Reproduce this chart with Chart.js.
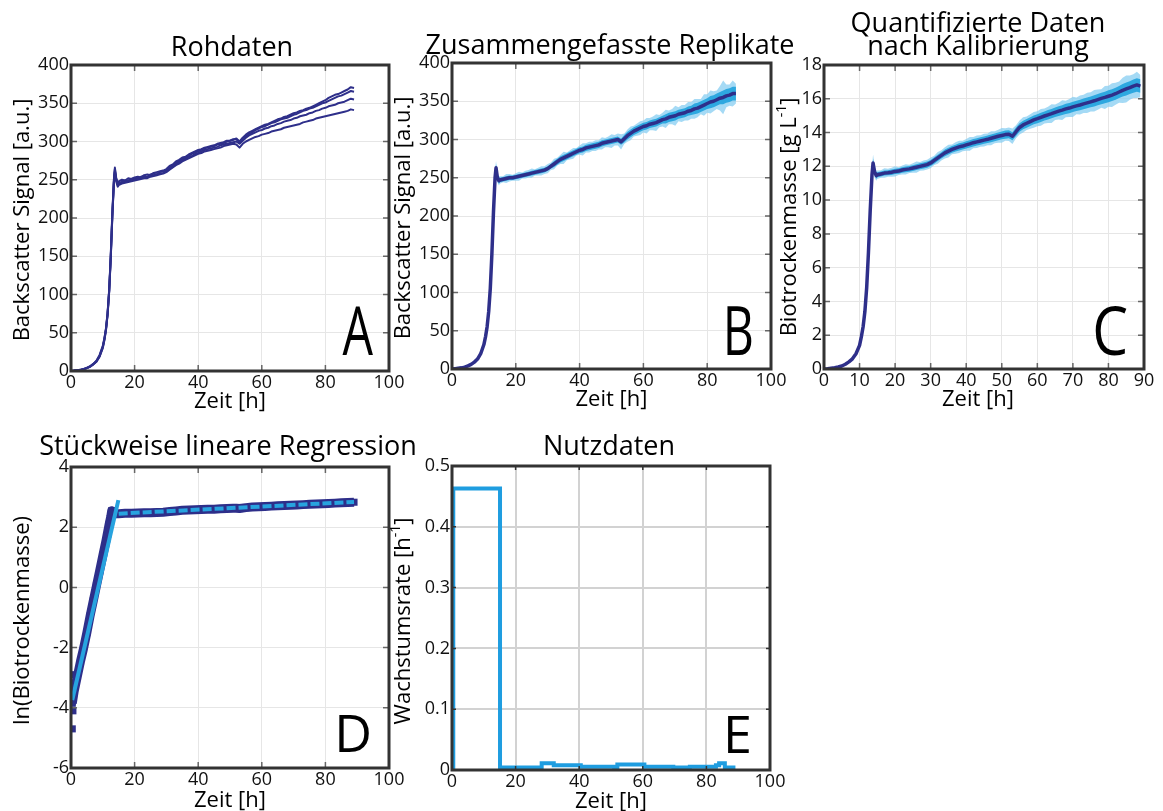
<!DOCTYPE html>
<html><head><meta charset="utf-8">
<script src="https://cdn.jsdelivr.net/npm/chart.js@4.4.0/dist/chart.umd.min.js"></script>
<style>
html,body{margin:0;padding:0;background:#fff;width:1163px;height:811px;overflow:hidden;}
canvas{position:absolute;left:0;top:0;pointer-events:none;}
</style></head><body>
<canvas id="cA" width="1163" height="811"></canvas>
<canvas id="cB" width="1163" height="811"></canvas>
<canvas id="cC" width="1163" height="811"></canvas>
<canvas id="cD" width="1163" height="811"></canvas>
<canvas id="cE" width="1163" height="811"></canvas>
<script>
// ---------- data ----------
const T = [0,1,2,3,4,5,6,7,8,9,10,10.5,11,11.5,12,12.5,13,13.5,13.8,14.2,14.7,
15,16,17,18,19,20,21,22,23,24,25,26,27,28,29,
30,31,32,33,34,35,36,37,38,39,40,41,42,43,44,
45,46,47,48,49,50,51,52,53,54,55,56,57,58,59,
60,61,62,63,64,65,66,67,68,69,70,71,72,73,74,
75,76,77,78,79,80,81,82,83,84,85,86,87,88,89];

// Panel A: raw backscatter replicates
const rep1 = [0,0.5,1,1.5,2.5,4,6,9,13,20,32,42,55,75,105,150,205,250,266,253,246,
248,250,249,252,251,253,254,253,256,257,256,259,260,261,262,
264,268,270,274,276,279,280,283,285,287,289,290,292,293,294,
295,297,298,299,301,301,302,304,300,305,309,312,314,316,318,
320,322,323,325,327,329,330,332,333,335,337,338,340,341,343,
344,346,348,350,352,354,357,359,361,362,364,366,368,371,370];
const rep2 = [0,0.4,0.9,1.5,2.4,3.8,5.8,8.7,12.5,19,31,41,54,74,104,148,203,248,264,251,244,
246,247,249,249,251,252,251,254,255,254,257,258,257,260,261,
262,266,269,272,275,277,279,281,284,286,287,289,291,292,293,
294,296,297,298,300,301,303,303,299,304,307,310,312,315,317,
319,320,322,324,325,327,329,330,331,333,335,336,338,340,341,
343,344,346,348,350,351,353,355,357,359,360,362,364,366,365];
const rep3 = [0,0.5,1,1.6,2.6,4.2,6.2,9.3,13.5,21,33,43,56,76,106,152,207,251,262,250,243,
245,246,248,248,250,250,252,252,253,254,255,256,257,258,259,
261,264,267,270,273,275,277,280,281,284,285,287,289,290,291,
292,293,295,296,297,298,299,300,297,301,305,308,310,312,314,
315,317,318,320,321,323,324,326,327,328,330,331,333,334,335,
337,338,340,341,343,344,346,347,348,350,351,352,354,356,355];
const rep4 = [0,0.4,0.9,1.4,2.3,3.7,5.6,8.5,12,19,30,40,53,73,103,147,202,247,260,248,241,
243,245,246,247,248,249,250,251,252,252,254,255,256,257,258,
260,263,266,269,271,274,276,278,280,282,284,285,287,288,289,
290,291,292,294,295,296,297,296,292,297,300,302,304,306,307,
309,310,311,313,314,315,316,318,319,320,321,322,323,325,326,
327,328,330,331,332,333,334,335,336,337,338,339,340,342,341];

// Panel B: combined replicates (mean, inner spread, outer spread)
const bMean = [0,0.5,1,1.5,2.5,4,6,9,13,20,32,42,55,75,105,150,205,250,263,251,246,
247,248,249,250,250,251,252,253,254,255,256,257,258,259,260,
262,265,268,271,274,276,278,280,282,284,286,287,289,290,291,
292,293,295,296,297,298,299,300,297,301,305,308,311,313,315,
317,318,320,321,322,324,326,327,329,330,331,333,334,335,337,
338,340,341,343,345,347,349,350,352,354,355,357,358,360,360];
const bSD = [1,1,1,1,1,1,1,1,1,1,2,2,2,3,3,4,4,5,5,4,4,
3,3,3,3,3,3,3,3,3,3,3,3,3,3,3,
3,3,4,4,4,4,4,4,4,4,4,4,4,4,4,
4,4,4,4,4,4,4,4,4,5,5,5,5,5,5,
5,5,5,5,5,5,5,6,6,6,6,6,6,6,6,
6,7,7,7,7,7,8,8,8,8,9,9,9,9,9];
const bSpike = [2,2,2,2,2,2,2,2,2,2,3,3,4,5,5,6,7,9,9,7,6,
5,4,6,5,4,5,6,4,5,5,6,4,5,6,5,
6,5,7,5,6,8,5,6,7,5,6,8,6,7,6,
7,6,8,6,7,9,7,8,10,7,8,9,7,8,9,
8,10,8,9,11,8,9,12,9,10,13,9,11,10,12,
11,13,12,10,14,12,15,13,12,16,22,15,14,17,13];

// Panel C: calibrated biomass
const cMean = [0,0.02,0.05,0.08,0.12,0.18,0.28,0.42,0.6,0.9,1.4,1.9,2.5,3.4,4.8,6.9,9.4,11.5,12.2,11.7,11.45,
11.5,11.55,11.6,11.62,11.65,11.7,11.72,11.78,11.82,11.85,11.9,11.95,12.0,12.05,12.1,
12.2,12.35,12.5,12.65,12.8,12.9,13.0,13.08,13.15,13.2,13.27,13.33,13.4,13.45,13.5,
13.55,13.6,13.66,13.72,13.78,13.83,13.88,13.9,13.78,14.05,14.3,14.45,14.55,14.65,14.75,
14.82,14.9,14.98,15.05,15.12,15.2,15.27,15.33,15.4,15.45,15.52,15.58,15.63,15.7,15.76,
15.82,15.88,15.95,16.02,16.08,16.15,16.22,16.3,16.4,16.5,16.58,16.66,16.75,16.82,16.75];
const cSD = [0.03,0.03,0.03,0.03,0.04,0.04,0.05,0.05,0.06,0.07,0.1,0.12,0.14,0.16,0.18,0.2,0.22,0.25,0.25,0.2,0.18,
0.15,0.15,0.15,0.15,0.16,0.16,0.16,0.16,0.17,0.17,0.17,0.17,0.18,0.18,0.18,
0.18,0.19,0.19,0.19,0.2,0.2,0.2,0.2,0.21,0.21,0.21,0.21,0.22,0.22,0.22,
0.22,0.22,0.23,0.23,0.23,0.23,0.24,0.24,0.24,0.25,0.25,0.25,0.26,0.26,0.26,
0.27,0.27,0.27,0.28,0.28,0.28,0.29,0.29,0.3,0.3,0.3,0.31,0.31,0.32,0.32,
0.32,0.33,0.33,0.34,0.34,0.35,0.35,0.36,0.36,0.37,0.38,0.38,0.39,0.4,0.4];
const cSpike = [0.06,0.06,0.06,0.06,0.07,0.07,0.08,0.08,0.1,0.12,0.15,0.18,0.2,0.24,0.28,0.32,0.38,0.45,0.5,0.35,0.3,
0.25,0.22,0.28,0.24,0.26,0.3,0.23,0.27,0.31,0.25,0.28,0.33,0.26,0.3,0.29,
0.32,0.27,0.35,0.3,0.33,0.38,0.29,0.34,0.36,0.31,0.35,0.4,0.33,0.37,0.34,
0.38,0.35,0.41,0.36,0.39,0.44,0.37,0.4,0.46,0.38,0.42,0.45,0.4,0.43,0.47,
0.44,0.5,0.45,0.48,0.55,0.46,0.5,0.58,0.49,0.53,0.6,0.5,0.56,0.54,0.6,
0.57,0.64,0.6,0.55,0.68,0.62,0.7,0.65,0.63,0.75,0.8,0.72,0.7,0.78,0.66];

// Panel D: ln(biomass) and piecewise regression
const dT = [0.4,1,2,3,3.9,5,6,7,8,9,10,11,12,12.5,12.8,13.3,14,15,
17,19,21,23,25,27,29,31,33,35,37,39,41,43,45,47,49,51,52,53,
55,57,59,61,63,65,67,69,71,73,75,77,79,81,83,85,87,89];
const dLn = [-3.85,-3.45,-2.95,-2.45,-2.05,-1.5,-0.95,-0.45,0.05,0.55,1.05,1.55,2.1,2.35,2.55,2.5,2.45,2.45,
2.46,2.46,2.47,2.48,2.48,2.49,2.5,2.52,2.54,2.56,2.57,2.58,2.59,2.6,2.6,2.61,2.62,2.63,2.63,2.62,
2.65,2.67,2.68,2.69,2.7,2.71,2.72,2.73,2.74,2.75,2.76,2.77,2.78,2.79,2.8,2.81,2.82,2.83];
const dOutT = [0.3,0.4,0.6,0.4];
const dOutLn = [-2.9,-3.8,-4.1,-4.7];
const reg1T = [0.4,14.9], reg1Ln = [-3.74,2.9];
const reg2T = [15,89],   reg2Ln = [2.45,2.84];

// Panel E: growth rate (step: each value holds until the next time point)
const eT  = [0,0.4,15.1,28.2,32,40.5,51,52,60.5,69.6,74.8,83,84,85.8,88.5,89];
const eMu = [0,0.463,0.004,0.011,0.008,0.0055,0,0.009,0.0055,0.004,0.0055,0.008,0.011,0.004,0,0];

// ---------- helpers ----------
const FONT = "'Open Sans', sans-serif";
Chart.defaults.font.family = FONT;
Chart.defaults.color = '#111';
const pts = (xs, ys) => xs.map((x, i) => ({x, y: ys[i]}));
const addArr = (a, b, s) => a.map((v, i) => v + s * b[i]);
const NAVY = '#2e2f8a';
const CYAN = '#1f9de0';

const panelPlugin = {
  id: 'panel',
  afterDraw(chart, args, o) {
    const {ctx, chartArea: a, scales} = chart;
    ctx.save();
    ctx.strokeStyle = o.tickColor; ctx.lineWidth = o.tickWidth;
    const L = o.tickLen;
    ctx.beginPath();
    scales.x.ticks.forEach(t => { const p = scales.x.getPixelForValue(t.value);
      ctx.moveTo(p, a.bottom); ctx.lineTo(p, a.bottom - L);
      ctx.moveTo(p, a.top); ctx.lineTo(p, a.top + L); });
    scales.y.ticks.forEach(t => { const p = scales.y.getPixelForValue(t.value);
      ctx.moveTo(a.left, p); ctx.lineTo(a.left + L, p);
      ctx.moveTo(a.right, p); ctx.lineTo(a.right - L, p); });
    ctx.stroke();
    ctx.strokeStyle = '#333'; ctx.lineWidth = 3;
    ctx.strokeRect(a.left, a.top, a.right - a.left, a.bottom - a.top);
    ctx.fillStyle = '#000';
    ctx.font = '27px ' + FONT; ctx.textAlign = 'center'; ctx.textBaseline = 'alphabetic';
    o.title.lines.forEach((s, i) => ctx.fillText(s, o.title.x, o.title.ys[i]));
    ctx.font = '22px ' + FONT;
    ctx.fillText(o.xlab.text, (a.left + a.right) / 2 + o.xlab.dx, o.xlab.y);
    ctx.save();
    ctx.translate(o.ylab.x, (a.top + a.bottom) / 2 + o.ylab.dy);
    ctx.rotate(-Math.PI / 2);
    ctx.textAlign = 'left'; ctx.textBaseline = 'middle';
    ctx.font = '22px ' + FONT; const w1 = ctx.measureText(o.ylab.pre).width;
    const w3 = ctx.measureText(o.ylab.post || '').width;
    ctx.font = '14px ' + FONT; const w2 = o.ylab.sup ? ctx.measureText(o.ylab.sup).width : 0;
    let s = -(w1 + w2 + w3) / 2;
    ctx.font = '22px ' + FONT; ctx.fillText(o.ylab.pre, s, 0);
    if (o.ylab.sup) { ctx.font = '14px ' + FONT; ctx.fillText(o.ylab.sup, s + w1, -8);
      ctx.font = '22px ' + FONT; ctx.fillText(o.ylab.post, s + w1 + w2, 0); }
    ctx.restore();
    ctx.save();
    ctx.translate(o.letter.x, o.letter.y); ctx.scale(o.letter.sx, 1);
    ctx.font = o.letter.size + 'px ' + FONT; ctx.textAlign = 'right'; ctx.textBaseline = 'alphabetic';
    ctx.fillText(o.letter.t, 0, 0);
    ctx.restore();
    ctx.restore();
  }
};

function makeChart(id, area, xr, yr, datasets, text, gridStyle) {
  const W = 1163, H = 811;
  return new Chart(document.getElementById(id), {
    type: 'line',
    data: { datasets },
    plugins: [panelPlugin],
    options: {
      responsive: false, animation: false, events: [],
      layout: { padding: { left: 0, top: area.t, right: W - area.r, bottom: 0 } },
      elements: { point: { radius: 0 }, line: { tension: 0, borderJoinStyle: 'round', borderCapStyle: 'butt' } },
      plugins: {
        legend: { display: false }, tooltip: { enabled: false },
        panel: Object.assign({ tickColor: '#666', tickWidth: 1.5, tickLen: 6 }, text)
      },
      scales: {
        x: { type: 'linear', min: xr[0], max: xr[1],
             ticks: { stepSize: xr[2], font: { size: 18 }, padding: 1, color: '#111', maxRotation: 0, autoSkip: false },
             grid: { color: gridStyle.c, lineWidth: gridStyle.w, drawTicks: false },
             border: { display: false },
             afterFit: s => { s.height = H - area.b; } },
        y: { type: 'linear', min: yr[0], max: yr[1],
             ticks: { stepSize: yr[2], font: { size: 18 }, padding: 2, color: '#111', autoSkip: false },
             grid: { color: gridStyle.c, lineWidth: gridStyle.w, drawTicks: false },
             border: { display: false },
             afterFit: s => { s.width = area.l; } }
      }
    }
  });
}

const lightGrid = { c: '#e6e6e6', w: 1 };

// ---------- Panel A ----------
makeChart('cA', { l: 71, r: 389, t: 65, b: 371 }, [0, 100, 20], [0, 400, 50],
  [rep1, rep2, rep3, rep4].map(r => ({ data: pts(T, r), borderColor: NAVY, borderWidth: 2, fill: false })),
  { title: { lines: ['Rohdaten'], x: 232, ys: [56] },
    xlab: { text: 'Zeit [h]', dx: 0, y: 408 },
    ylab: { pre: 'Backscatter Signal [a.u.]', x: 23, dy: 2 },
    letter: { t: 'A', x: 373, y: 355, size: 67, sx: 0.72 } }, lightGrid);

// ---------- Panel B ----------
makeChart('cB', { l: 452, r: 771, t: 63, b: 369 }, [0, 100, 20], [0, 400, 50], [
  { data: pts(T, bMean), borderColor: NAVY, borderWidth: 3.5, fill: false },
  { data: pts(T, addArr(bMean, bSD, 1)), borderWidth: 0, borderColor: 'rgba(0,0,0,0)', backgroundColor: '#2ea8e0', fill: 2 },
  { data: pts(T, addArr(bMean, bSD, -1)), borderWidth: 0, borderColor: 'rgba(0,0,0,0)', fill: false },
  { data: pts(T, addArr(bMean, bSpike, 1)), borderWidth: 0, borderColor: 'rgba(0,0,0,0)', backgroundColor: 'rgba(135,205,242,0.75)', fill: 4 },
  { data: pts(T, addArr(bMean, bSpike, -1)), borderWidth: 0, borderColor: 'rgba(0,0,0,0)', fill: false }
], { title: { lines: ['Zusammengefasste Replikate'], x: 610, ys: [54] },
    xlab: { text: 'Zeit [h]', dx: 0, y: 406 },
    ylab: { pre: 'Backscatter Signal [a.u.]', x: 404, dy: 2 },
    letter: { t: 'B', x: 754, y: 355, size: 67, sx: 0.72 } }, lightGrid);

// ---------- Panel C ----------
makeChart('cC', { l: 824, r: 1144, t: 65, b: 369 }, [0, 90, 10], [0, 18, 2], [
  { data: pts(T, cMean), borderColor: NAVY, borderWidth: 3.5, fill: false },
  { data: pts(T, addArr(cMean, cSD, 1)), borderWidth: 0, borderColor: 'rgba(0,0,0,0)', backgroundColor: '#2ea8e0', fill: 2 },
  { data: pts(T, addArr(cMean, cSD, -1)), borderWidth: 0, borderColor: 'rgba(0,0,0,0)', fill: false },
  { data: pts(T, addArr(cMean, cSpike, 1)), borderWidth: 0, borderColor: 'rgba(0,0,0,0)', backgroundColor: 'rgba(135,205,242,0.75)', fill: 4 },
  { data: pts(T, addArr(cMean, cSpike, -1)), borderWidth: 0, borderColor: 'rgba(0,0,0,0)', fill: false }
], { title: { lines: ['Quantifizierte Daten', 'nach Kalibrierung'], x: 978, ys: [32, 55] },
    xlab: { text: 'Zeit [h]', dx: -6, y: 406 },
    ylab: { pre: 'Biotrockenmasse [g L', sup: '-1', post: ']', x: 790, dy: 0 },
    letter: { t: 'C', x: 1128, y: 355, size: 67, sx: 0.85 } }, lightGrid);

// ---------- Panel D ----------
makeChart('cD', { l: 71, r: 389, t: 467, b: 768 }, [0, 100, 20], [-6, 4, 2], [
  { data: pts(reg1T, reg1Ln), borderColor: '#27a3df', borderWidth: 4, fill: false },
  { data: pts(reg2T, reg2Ln), borderColor: '#27a3df', borderWidth: 4, borderDash: [9, 3], fill: false },
  { data: pts(dT, dLn), borderColor: NAVY, borderWidth: 9, pointStyle: 'rect', pointRadius: 5,
    pointBackgroundColor: NAVY, pointBorderWidth: 0, fill: false },
  { data: pts(dOutT, dOutLn), showLine: false, pointStyle: 'rect', pointRadius: 5,
    pointBackgroundColor: NAVY, pointBorderWidth: 0 }
], { title: { lines: ['Stückweise lineare Regression'], x: 228, ys: [455] },
    xlab: { text: 'Zeit [h]', dx: 0, y: 807 },
    ylab: { pre: 'ln(Biotrockenmasse)', x: 23, dy: 3 },
    letter: { t: 'D', x: 372, y: 752, size: 52, sx: 1 } }, lightGrid);

// ---------- Panel E ----------
makeChart('cE', { l: 452, r: 770, t: 466, b: 770 }, [0, 100, 20], [0, 0.5, 0.1], [
  { data: pts(eT, eMu), borderColor: CYAN, borderWidth: 4, stepped: 'before', fill: false, borderJoinStyle: 'miter' }
], { title: { lines: ['Nutzdaten'], x: 609, ys: [455] },
    xlab: { text: 'Zeit [h]', dx: 0, y: 808 },
    ylab: { pre: 'Wachstumsrate [h', sup: '-1', post: ']', x: 404, dy: 3 },
    letter: { t: 'E', x: 752, y: 753, size: 52, sx: 1 },
    tickColor: '#333', tickLen: 4 }, { c: '#d2d2d2', w: 2 });
</script>
</body></html>
